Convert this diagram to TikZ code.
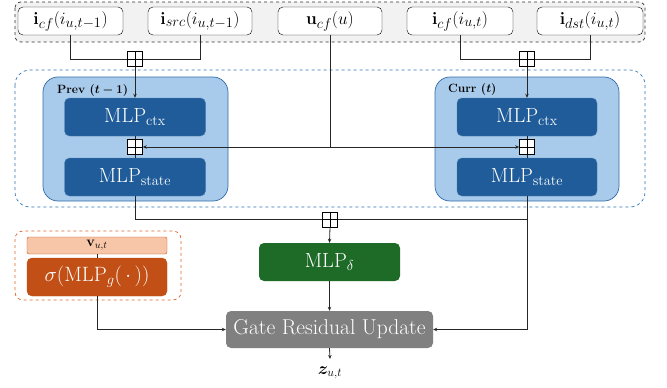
\documentclass[tikz,border=0pt]{standalone}
\usepackage{amsmath}
\usepackage{bm}
\usetikzlibrary{arrows.meta}
\definecolor{topfill}{HTML}{F2F2F2}
\definecolor{bluedash}{HTML}{2E75B6}
\definecolor{lightblue}{HTML}{A9CBEB}
\definecolor{blueedge}{HTML}{2F6BA8}
\definecolor{darkblue}{HTML}{1F5C99}
\definecolor{mgreen}{HTML}{1E6B28}
\definecolor{dorange}{HTML}{C24F16}
\definecolor{lorange}{HTML}{F7C6A9}
\definecolor{orangedash}{HTML}{E0652A}
\definecolor{mgray}{HTML}{808080}
\tikzset{
  inbox/.style={draw=black, fill=white, rounded corners=5pt, minimum height=28pt, inner sep=0pt, font=\fontsize{19}{22}\selectfont},
  plusbox/.style={draw=black, fill=white, minimum size=15pt, inner sep=0pt,
    path picture={\draw (path picture bounding box.north) -- (path picture bounding box.south)
      (path picture bounding box.west) -- (path picture bounding box.east);}},
  mlpbox/.style={fill=darkblue, draw=darkblue!80!white, rounded corners=5pt, minimum width=141pt, minimum height=38pt, inner sep=0pt, text=white, font=\fontsize{20.5}{24}\selectfont},
  conn/.style={draw=black!85, line width=0.8pt},
  arr/.style={conn, -{Stealth[length=4pt,width=3.5pt]}},
}
\begin{document}
\begin{tikzpicture}[x=1pt,y=-1pt]
\useasboundingbox (0,0) rectangle (667,388);
% top dashed container
\draw[dashed, draw=black!80, fill=topfill, rounded corners=6pt, line width=0.7pt] (15,2) rectangle (645,42);
\node[inbox, minimum width=105pt] (b1) at (70.5,21) {$\mathbf{i}_{cf}(i_{u,t-1})$};
\node[inbox, minimum width=104pt] (b2) at (200,21) {$\mathbf{i}_{src}(i_{u,t-1})$};
\node[inbox, minimum width=104pt] (b3) at (330,21) {$\mathbf{u}_{cf}(u)$};
\node[inbox, minimum width=106pt] (b4) at (460,21) {$\mathbf{i}_{cf}(i_{u,t})$};
\node[inbox, minimum width=106pt] (b5) at (590,21) {$\mathbf{i}_{dst}(i_{u,t})$};
% blue dashed container
\draw[dashed, draw=bluedash, rounded corners=15pt, line width=0.7pt] (15,70) rectangle (645,207);
\draw[fill=lightblue, draw=blueedge, rounded corners=15pt, line width=0.7pt] (43,77) rectangle (228,201);
\draw[fill=lightblue, draw=blueedge, rounded corners=15pt, line width=0.7pt] (435,77) rectangle (619,201);
\node[anchor=west, inner sep=0pt, font=\fontsize{12}{14}\selectfont\bfseries] (lp) at (57,90) {Prev $\bm{(t-1)}$};
\node[anchor=west, inner sep=0pt, font=\fontsize{12}{14}\selectfont\bfseries] (lc) at (448,89) {Curr $\bm{(t)}$};
\node[mlpbox] (ctxP) at (135,117) {MLP$_{\text{ctx}}$};
\node[mlpbox] (stP) at (135,177) {MLP$_{\text{state}}$};
\node[mlpbox, minimum width=140pt] (ctxC) at (527,117) {MLP$_{\text{ctx}}$};
\node[mlpbox, minimum width=140pt] (stC) at (527,177) {MLP$_{\text{state}}$};
% plus nodes
\node[plusbox] (pA) at (135,59) {};
\node[plusbox] (pB) at (527,59) {};
\node[plusbox] (pP) at (135,147) {};
\node[plusbox] (pC) at (527,147) {};
\node[plusbox] (pD) at (330,219.5) {};
\coordinate (uj) at (330,147);
% orange group
\draw[dashed, draw=orangedash, rounded corners=8pt, line width=0.7pt] (15,231) rectangle (181,300);
\node[fill=lorange, draw=dorange, rounded corners=2pt, minimum width=140pt, minimum height=17pt, inner sep=0pt, font=\fontsize{14}{16}\selectfont] (v) at (97,245.5) {$\mathbf{v}_{u,t}$};
\node[fill=dorange, draw=dorange, rounded corners=5pt, minimum width=140pt, minimum height=38pt, inner sep=0pt, text=white, font=\fontsize{20.5}{24}\selectfont] (sg) at (97,277) {$\sigma(\mathrm{MLP}_g(\,\cdot\,))$};
% green and gray
\node[fill=mgreen, rounded corners=5pt, minimum width=141pt, minimum height=38pt, inner sep=0pt, text=white, font=\fontsize{20.5}{24}\selectfont] (md) at (329.5,262) {MLP$_\delta$};
\node[fill=mgray, rounded corners=5pt, minimum width=207pt, minimum height=37pt, inner sep=0pt, text=white, font=\fontsize{21.5}{25}\selectfont] (gate) at (329.5,329.5) {Gate Residual Update};
\coordinate (zc) at (330,359);
\node[inner sep=0pt, font=\fontsize{18}{21}\selectfont] (z) at (330,373) {$\bm{z}_{u,t}$};
% connectors
\draw[conn] (b1.south) |- (pA.west);
\draw[conn] (b2.south) |- (pA.east);
\draw[arr] (pA.south) -- (ctxP.north);
\draw[conn] (b4.south) |- (pB.west);
\draw[conn] (b5.south) |- (pB.east);
\draw[arr] (pB.south) -- (ctxC.north);
\draw[conn] (b3.south) -- (uj);
\draw[arr] (uj) -- (pP.east);
\draw[arr] (uj) -- (pC.west);
\draw[conn] (ctxP.south) -- (pP.north) (pP.south) -- (stP.north);
\draw[conn] (ctxC.south) -- (pC.north) (pC.south) -- (stC.north);
\draw[conn] (stP.south) |- (pD.west);
\draw[conn] (stC.south) |- (pD.east);
\draw[arr] (stC.south) |- (gate.east);
\draw[arr] (pD.south) -- (md.north);
\draw[arr] (md.south) -- (gate.north);
\draw[conn] (v.south) -- (sg.north);
\draw[arr] (sg.south) |- (gate.west);
\draw[arr] (gate.south) -- (zc);
\end{tikzpicture}
\end{document}
